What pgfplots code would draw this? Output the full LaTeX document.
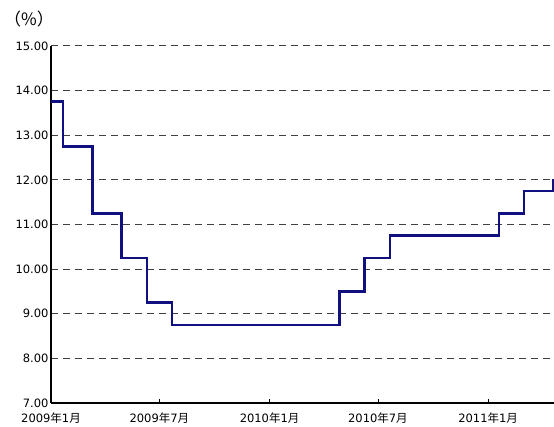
\documentclass[border=0pt]{standalone}
\usepackage{pgfplots}
\pgfplotsset{compat=1.18}
\usepackage{fontspec}
\setmainfont{DejaVu Sans}
\newfontfamily\cjk{Noto Sans CJK JP}
\definecolor{navyline}{RGB}{16,16,128}
\begin{document}
\begin{tikzpicture}[x=1pt,y=1pt]
\path[use as bounding box] (0,0) rectangle (554,427);
\begin{axis}[at={(51pt,24pt)}, anchor=south west, scale only axis,
  width=503pt, height=357pt,
  xmin=0, xmax=840, ymin=7, ymax=15,
  axis x line=bottom, axis y line=left,
  axis line style={-, line width=1.6pt, black},
  ytick={7,8,9,10,11,12,13,14,15},
  yticklabels={7.00,8.00,9.00,10.00,11.00,12.00,13.00,14.00,15.00},
  ytick style={draw=none},
  y tick label style={font=\fontsize{11.5}{12}\selectfont, xshift=1pt},
  ymajorgrids,
  grid style={dash pattern=on 7pt off 5pt, black!75, line width=1pt},
  xtick={0,181,365,546,730},
  xticklabels={2009{\cjk 年}1{\cjk 月},2009{\cjk 年}7{\cjk 月},2010{\cjk 年}1{\cjk 月},2010{\cjk 年}7{\cjk 月},2011{\cjk 年}1{\cjk 月}},
  x tick label style={font=\fontsize{11.5}{12}\selectfont, yshift=-6pt},
  tick align=inside, major tick length=4pt,
  xtick style={black, line width=0.8pt},
  clip=false,
]
\addplot[const plot, navyline, line width=2.6pt] coordinates {
(0,13.75) (20,12.75) (69,11.25) (118,10.25) (160,9.25) (202,8.75)
(482,9.50) (524,10.25) (566,10.75) (748,11.25) (790,11.75) (839,12.00) (840,12.00)
};
\end{axis}
\node[anchor=west, font=\cjk\fontsize{17}{17}\selectfont, inner sep=0pt] at (4,408) {（\%）};
\end{tikzpicture}
\end{document}
